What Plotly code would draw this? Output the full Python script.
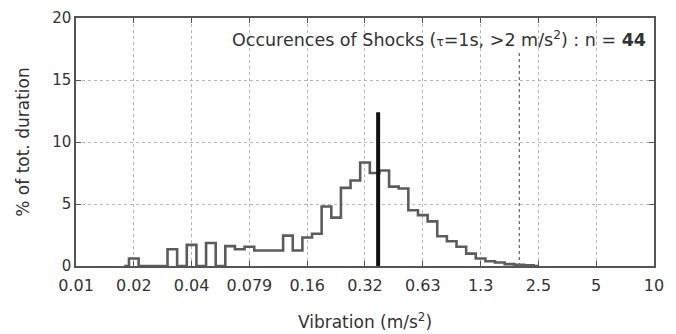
import plotly.graph_objects as go

# ---- data ----
bin_centers = [0.01778, 0.01995, 0.02239, 0.02512, 0.02818, 0.03162, 0.03548, 0.03981,
               0.04467, 0.05012, 0.05623, 0.06310, 0.07079, 0.07943, 0.08913, 0.1000,
               0.1122, 0.1259, 0.1413, 0.1585, 0.1778, 0.1995, 0.2239, 0.2512, 0.2818,
               0.3162, 0.3548, 0.3981, 0.4467, 0.5012, 0.5623, 0.6310, 0.7079, 0.7943,
               0.8913, 1.000, 1.122, 1.259, 1.413, 1.585, 1.778, 1.995, 2.239, 2.512]
pct_duration = [0, 0.6, 0, 0, 0, 1.35, 0, 1.7,
                0, 1.85, 0, 1.6, 1.35, 1.55, 1.25, 1.25,
                1.25, 2.45, 1.25, 2.3, 2.6, 4.8, 3.9, 6.3, 6.9,
                8.35, 7.5, 7.7, 6.4, 6.25, 4.5, 4.1, 3.6, 2.4,
                2.0, 1.55, 1.0, 0.6, 0.38, 0.28, 0.15, 0.1, 0.05, 0]

mean_vibration = 0.37
mean_height = 12.4
threshold = 2.0
threshold_height = 17.4
n_shocks = 44

tick_values = [0.01, 0.01995, 0.03981, 0.07943, 0.1585, 0.3162, 0.6310, 1.259, 2.512, 5.012, 10]
tick_labels = ["0.01", "0.02", "0.04", "0.079", "0.16", "0.32", "0.63", "1.3", "2.5", "5", "10"]
y_ticks = [0, 5, 10, 15, 20]

FONT = "DejaVu Sans"
TXT = "#333333"
fig = go.Figure()

fig.add_trace(go.Scatter(
    x=bin_centers, y=pct_duration, mode="lines",
    line=dict(shape="hvh", color="#5c5c5c", width=2.6),
    showlegend=False, hoverinfo="skip"))

fig.add_trace(go.Scatter(
    x=[threshold, threshold], y=[0, threshold_height], mode="lines",
    line=dict(color="#666666", width=1.2, dash="dot"),
    showlegend=False, hoverinfo="skip"))

fig.add_trace(go.Scatter(
    x=[mean_vibration, mean_vibration], y=[0, mean_height], mode="lines",
    line=dict(color="#111111", width=4),
    showlegend=False, hoverinfo="skip"))

axis_common = dict(
    showline=True, linecolor="#555555", linewidth=1.5, mirror="ticks",
    ticks="inside", ticklen=5, tickcolor="#555555", tickwidth=1.2,
    showgrid=True, gridcolor="#b5b5b5", griddash="dot", gridwidth=1,
    zeroline=False, automargin=False,
)

fig.update_xaxes(
    type="log", range=[-2, 1], tickmode="array",
    tickvals=tick_values, ticktext=tick_labels,
    tickfont=dict(family=FONT, size=16, color=TXT), ticklabelstandoff=4,
    title=dict(text="Vibration (m/s<sup>2</sup>)", font=dict(family=FONT, size=17, color=TXT),
               standoff=22),
    **axis_common)
fig.update_yaxes(
    range=[0, 20], tickmode="array", tickvals=y_ticks,
    tickfont=dict(family=FONT, size=15, color=TXT),
    title=dict(text="% of tot. duration", font=dict(family=FONT, size=17, color=TXT),
               standoff=18),
    **axis_common)

fig.add_annotation(
    xref="paper", yref="paper", x=0.99, y=0.915, xanchor="right", yanchor="middle",
    showarrow=False,
    text=("Occurences of Shocks (<span style='font-size:12px'>τ</span>=1s, &gt;2 m/s<sup>2</sup>) : n = "
          f"<b>{n_shocks}</b>"),
    font=dict(family=FONT, size=17.5, color=TXT))

# page body adds an 8px margin, so the figure is 8px smaller and margins shifted
fig.update_layout(
    width=668, height=326,
    margin=dict(l=68, r=22, t=10, b=68),
    paper_bgcolor="white", plot_bgcolor="white",
)

fig.write_html("out.html")
